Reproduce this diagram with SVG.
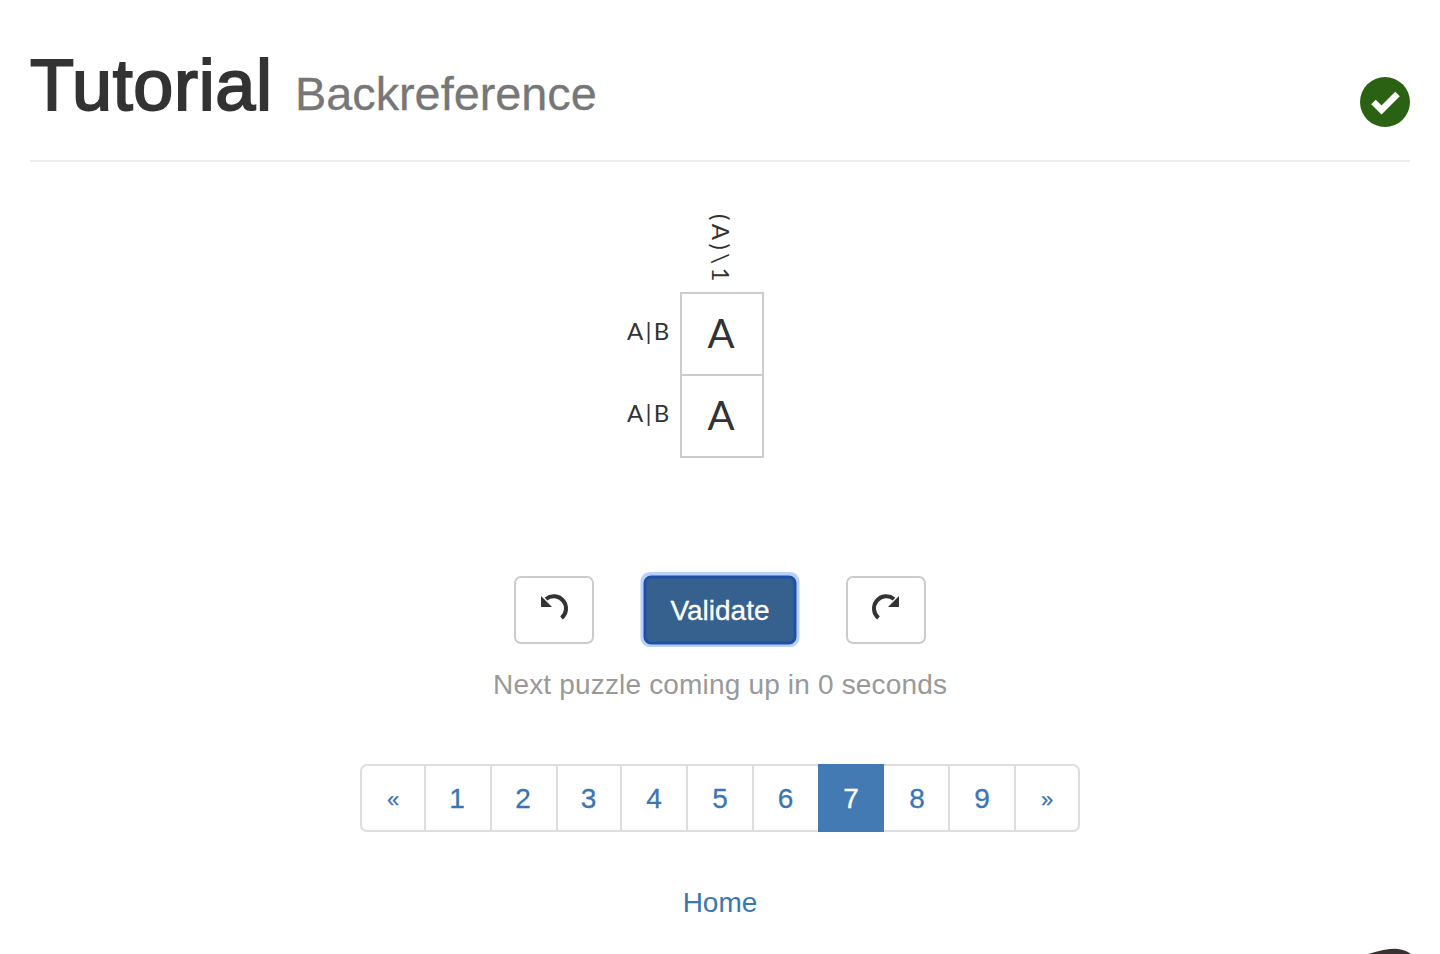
<svg xmlns="http://www.w3.org/2000/svg" width="1440" height="954" viewBox="0 0 1440 954">
<style>
text{font-family:"Liberation Sans",Arial,sans-serif}
.lbl{font-family:Lato,"Open Sans",sans-serif;font-size:24px;fill:#333;font-weight:400;letter-spacing:2.2px}
.rot{letter-spacing:3.4px}
.cell{fill:#fff;stroke:#ccc;stroke-width:2}
.big{font-family:Lato,"Open Sans",sans-serif;font-size:40px;fill:#333;text-anchor:middle}
.pg{font-size:28px;fill:#3b76b3;text-anchor:middle;stroke:#3b76b3;stroke-width:.3}
.sep{stroke:#ddd;stroke-width:2}
.ic{fill:none;stroke:#333;stroke-width:4}
</style>
<rect width="1440" height="954" fill="#fff"/>
<g id="header">
<text x="30" y="110" font-size="72" fill="#333" stroke="#333" stroke-width="2" textLength="242">Tutorial</text>
<text x="295" y="110" font-size="46.8" fill="#777" stroke="#777" stroke-width=".3">Backreference</text>
<rect x="30" y="160" width="1380" height="2" fill="#eee"/>
</g>
<g id="status">
<circle cx="1385" cy="102" r="25" fill="#2b6113"/>
<path d="M1373.500 102l8 8 16-16" fill="none" stroke="#fff" stroke-width="6.500"/>
</g>
<g id="grid">
<rect class="cell" x="681" y="293" width="82" height="82"/>
<rect class="cell" x="681" y="375" width="82" height="82"/>
<text class="big" x="721" y="348">A</text>
<text class="big" x="721" y="430">A</text>
<text class="lbl" x="627" y="340">A|B</text>
<text class="lbl" x="627" y="422">A|B</text>
<text class="lbl rot" transform="translate(712 214) rotate(90)">(A)\1</text>
</g>
<g id="undo">
<rect x="515" y="577" width="78" height="66" rx="6" fill="#fff" stroke="#ccc" stroke-width="2"/>
<path class="ic" d="M546 599A12 12 0 1 1 561.500 618"/>
<path d="M541 596v11h11z" fill="#333"/>
</g>
<g id="validate">
<rect x="640.500" y="572" width="159" height="75" rx="9" fill="#b9d0fb"/>
<rect x="645" y="577" width="150" height="66" rx="6" fill="#36618f" stroke="#1e50a8" stroke-width="3"/>
<text x="720" y="620" font-size="28" fill="#fff" stroke="#fff" stroke-width=".3" text-anchor="middle">Validate</text>
</g>
<g id="redo">
<rect x="847" y="577" width="78" height="66" rx="6" fill="#fff" stroke="#ccc" stroke-width="2"/>
<path class="ic" d="M894 599A12 12 0 1 0 878.500 618"/>
<path d="M899 596v11h-11z" fill="#333"/>
</g>
<text id="msg" x="493" y="694" font-size="28" fill="#999" textLength="454">Next puzzle coming up in 0 seconds</text>
<g id="pagination">
<rect x="361" y="765" width="718" height="66" rx="6" fill="#fff" stroke="#ddd" stroke-width="2"/>
<rect x="818" y="764" width="66" height="68" style="fill:#437ab4"/>
<path class="sep" d="M425 765v66M491 765v66M557 765v66M621 765v66M687 765v66M753 765v66M949 765v66M1015 765v66"/>
<text class="pg" x="393" y="807" style="font-size:22px">«</text>
<text class="pg" x="457" y="808">1</text>
<text class="pg" x="523" y="808">2</text>
<text class="pg" x="588.500" y="808">3</text>
<text class="pg" x="654" y="808">4</text>
<text class="pg" x="720" y="808">5</text>
<text class="pg" x="785.500" y="808">6</text>
<text class="pg" x="851" y="808" style="fill:#fff;stroke:#fff">7</text>
<text class="pg" x="917" y="808">8</text>
<text class="pg" x="982" y="808">9</text>
<text class="pg" x="1047" y="807" style="font-size:22px">»</text>
</g>
<text id="home" x="720" y="912" font-size="28" fill="#3b76b3" text-anchor="middle">Home</text>
<path id="corner" d="M1368 954Q1388 948 1398 949Q1406 950 1411 954Z" fill="#3a3230"/>
</svg>
